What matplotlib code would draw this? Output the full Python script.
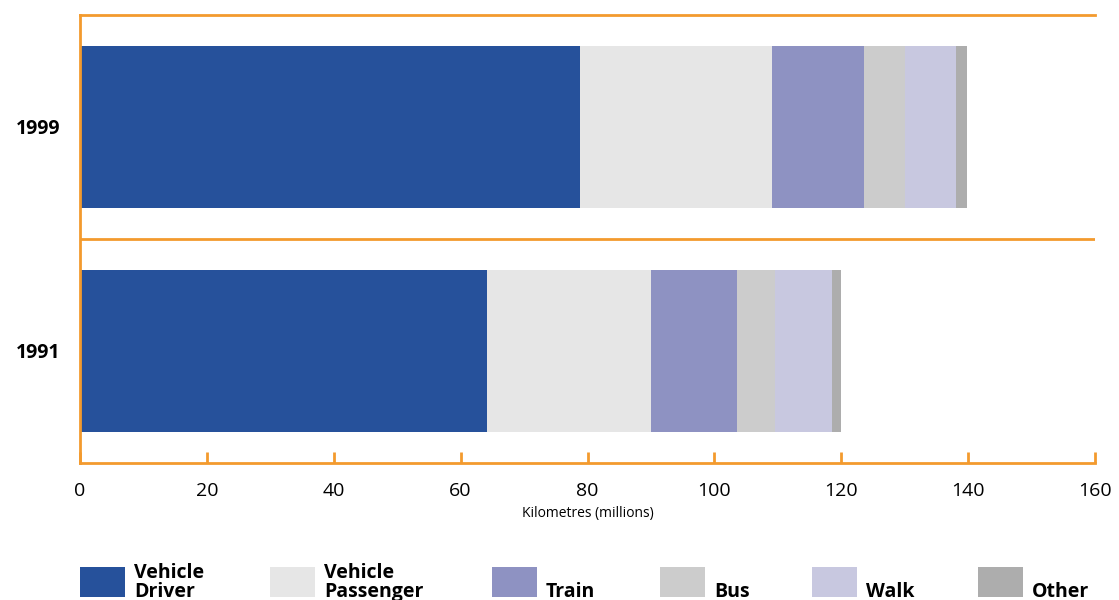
import matplotlib
matplotlib.use("Agg")
from matplotlib import pyplot as plt
from matplotlib.patches import Rectangle

years = ["1991", "1999"]
modes = ["Vehicle\nDriver", "Vehicle\nPassenger", "Train", "Bus", "Walk", "Other"]
driver = [64.2, 78.8]
passenger = [25.8, 30.3]
train = [13.6, 14.5]
bus = [6.0, 6.4]
walk = [8.9, 8.1]
other = [1.5, 1.7]
series = [driver, passenger, train, bus, walk, other]
colors = ["#26519b", "#e6e6e6", "#8e92c2", "#cccccc", "#c8c8e0", "#adadad"]
xticks = [0, 20, 40, 60, 80, 100, 120, 140, 160]

orange = "#f39a2e"
plt.rcParams["font.family"] = ["Open Sans", "DejaVu Sans"]

fig = plt.figure(figsize=(11.19, 6.0), dpi=100)
ax = fig.add_axes([80 / 1119, 1 - 463 / 600, 1015 / 1119, 448 / 600])

left = [0.0] * len(years)
for vals, c in zip(series, colors):
    ax.barh(years, vals, left=left, height=0.72, color=c, linewidth=0, zorder=2)
    left = [a + b for a, b in zip(left, vals)]

ax.set_xlim(0, 160)
ax.set_ylim(-0.5, 1.5)
ax.set_xticks(xticks)
ax.set_xticklabels([str(t) for t in xticks], fontsize=14)
ax.tick_params(axis="x", direction="in", length=8, width=2.0, color=orange, pad=14)
ax.tick_params(axis="y", length=0, pad=14)
for lab in ax.get_yticklabels():
    lab.set_fontsize(14)
    lab.set_fontweight("bold")

for side in ["left", "bottom", "top"]:
    ax.spines[side].set_color(orange)
    ax.spines[side].set_linewidth(2.0)
ax.spines["right"].set_visible(False)
ax.axhline(0.5, color=orange, linewidth=2.0, zorder=1)

ax.set_xlabel("Kilometres (millions)", fontsize=10, labelpad=4)

# legend drawn by hand along the bottom
patch_x = [80, 270, 492, 660, 812, 978]
for px, lab, c in zip(patch_x, modes, colors):
    fig.patches.append(Rectangle((px / 1119, 3 / 600), 45 / 1119, 30 / 600,
                                 transform=fig.transFigure, color=c, linewidth=0))
    fig.text((px + 54) / 1119, 3 / 600, lab, fontsize=14, fontweight="bold",
             va="baseline", ha="left", linespacing=0.95)

fig.savefig("out.png", dpi=100)
